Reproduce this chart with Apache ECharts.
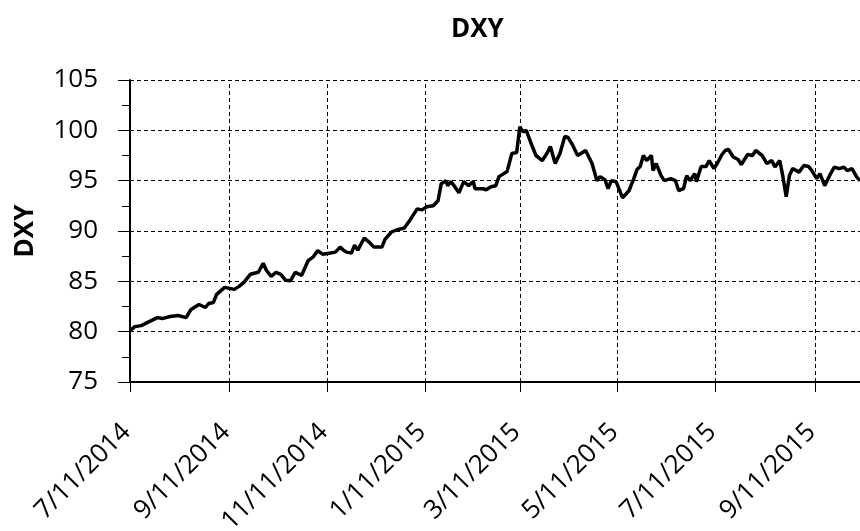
<!DOCTYPE html>
<html>
<head>
<meta charset="utf-8">
<script src="https://cdn.jsdelivr.net/npm/echarts@6/dist/echarts.min.js"></script>
<style>html,body{margin:0;padding:0;background:#fff}#c{width:860px;height:531px}</style>
</head>
<body>
<div id="c"></div>
<script>
var chartTitle = 'DXY';
var yAxisName = 'DXY';
var dates = ['2014-07-11','2014-07-14','2014-07-18','2014-07-23','2014-07-28','2014-07-31','2014-08-05','2014-08-10','2014-08-15','2014-08-18','2014-08-23','2014-08-27','2014-08-29','2014-09-01','2014-09-03','2014-09-08','2014-09-14','2014-09-17','2014-09-20','2014-09-24','2014-09-29','2014-10-02','2014-10-04','2014-10-07','2014-10-10','2014-10-13','2014-10-16','2014-10-19','2014-10-22','2014-10-26','2014-10-30','2014-11-02','2014-11-05','2014-11-08','2014-11-12','2014-11-16','2014-11-19','2014-11-21','2014-11-23','2014-11-26','2014-11-28','2014-11-30','2014-12-04','2014-12-07','2014-12-10','2014-12-15','2014-12-17','2014-12-21','2014-12-24','2014-12-29','2015-01-02','2015-01-06','2015-01-09','2015-01-12','2015-01-16','2015-01-19','2015-01-21','2015-01-24','2015-01-25','2015-01-27','2015-01-29','2015-02-01','2015-02-04','2015-02-07','2015-02-10','2015-02-11','2015-02-16','2015-02-18','2015-02-21','2015-02-24','2015-02-26','2015-03-01','2015-03-03','2015-03-06','2015-03-09','2015-03-11','2015-03-13','2015-03-15','2015-03-18','2015-03-21','2015-03-25','2015-03-28','2015-03-30','2015-04-02','2015-04-05','2015-04-08','2015-04-10','2015-04-13','2015-04-16','2015-04-18','2015-04-21','2015-04-25','2015-04-28','2015-04-30','2015-05-03','2015-05-05','2015-05-07','2015-05-10','2015-05-14','2015-05-18','2015-05-21','2015-05-23','2015-05-25','2015-05-27','2015-05-29','2015-06-01','2015-06-02','2015-06-04','2015-06-07','2015-06-09','2015-06-13','2015-06-16','2015-06-18','2015-06-21','2015-06-23','2015-06-25','2015-06-28','2015-06-29','2015-07-02','2015-07-05','2015-07-07','2015-07-10','2015-07-12','2015-07-15','2015-07-17','2015-07-19','2015-07-22','2015-07-25','2015-07-27','2015-07-31','2015-08-03','2015-08-05','2015-08-09','2015-08-12','2015-08-15','2015-08-17','2015-08-20','2015-08-22','2015-08-24','2015-08-26','2015-08-28','2015-09-01','2015-09-04','2015-09-07','2015-09-09','2015-09-12','2015-09-14','2015-09-17','2015-09-20','2015-09-23','2015-09-26','2015-09-29','2015-10-01','2015-10-04','2015-10-07','2015-10-09'];
var values = [80.1,80.5,80.6,81.0,81.4,81.3,81.5,81.6,81.4,82.2,82.7,82.4,82.8,82.9,83.7,84.4,84.2,84.5,84.9,85.7,85.9,86.8,86.1,85.5,85.9,85.7,85.1,85.05,85.9,85.6,87.05,87.4,88.05,87.7,87.8,87.9,88.4,88.1,87.9,87.8,88.6,88.1,89.3,88.9,88.4,88.4,89.2,89.9,90.1,90.3,91.2,92.2,92.1,92.4,92.5,93.0,94.7,95.0,94.5,94.9,94.5,93.8,94.9,94.5,94.9,94.2,94.2,94.1,94.4,94.5,95.4,95.7,95.9,97.7,97.8,100.35,99.85,100.0,98.7,97.5,97.0,97.75,98.4,96.7,97.7,99.4,99.3,98.5,97.5,97.7,98.0,96.7,95.0,95.4,95.1,94.2,95.0,94.9,93.3,94.0,95.2,96.1,96.4,97.5,97.0,97.5,96.0,96.7,95.5,95.0,95.2,95.0,94.0,94.2,95.5,95.0,95.7,94.9,96.4,96.4,97.0,96.2,96.7,97.6,98.0,98.1,97.35,97.1,96.6,97.6,97.5,98.0,97.5,96.7,97.0,96.35,97.0,95.35,93.4,95.5,96.2,95.85,96.5,96.4,96.0,95.2,95.7,94.5,95.5,96.35,96.2,96.35,96.0,96.2,95.35,95.0];
var xTickDates = ['2014-07-11','2014-09-11','2014-11-11','2015-01-11','2015-03-11','2015-05-11','2015-07-11','2015-09-11'];
var xMinDate = '2014-07-11';
var xMaxDate = '2015-10-09';
var yMin = 75, yMax = 105, yStep = 5;

function toTs(s){var p=s.split('-');return Date.UTC(+p[0],+p[1]-1,+p[2]);}
function fmt(v){var d=new Date(v);return '{a|' + (d.getUTCMonth()+1)+'/'+d.getUTCDate()+'/'+d.getUTCFullYear() + '}';}

var seriesData = dates.map(function(d,i){return [toTs(d), values[i]];});
var tickTs = xTickDates.map(toTs);
var FONT = 'Open Sans';

var chart = echarts.init(document.getElementById('c'), null, {renderer:'canvas'});
chart.setOption({
  animation: false,
  backgroundColor: '#fff',
  title: {
    text: chartTitle, left: 446, top: 12,
    textStyle: {fontFamily: FONT, fontWeight: 'bold', fontSize: 26, color: '#000'}
  },
  grid: {left: 130, right: 0, top: 80, bottom: 149, containLabel: false, outerBoundsMode: 'none'},
  xAxis: [{
    type: 'value', min: toTs(xMinDate), max: toTs(xMaxDate), scale: true,
    axisLine: {show: true, onZero: false, lineStyle: {color: '#000', width: 2}},
    axisTick: {show: true, customValues: tickTs, length: 10, lineStyle: {color: '#000', width: 1}},
    axisLabel: {show: false},
    splitLine: {show: false},
    minorTick: {show: false}
  }, {
    type: 'value', position: 'bottom', offset: 16, min: toTs(xMinDate), max: toTs(xMaxDate), scale: true,
    axisLine: {show: false},
    axisTick: {show: false, customValues: tickTs},
    axisLabel: {customValues: tickTs, rotate: 45, verticalAlign: 'top',
      formatter: fmt, fontFamily: FONT, fontSize: 26, color: '#000',
      rich: {a: {fontFamily: FONT, fontSize: 26, color: '#000', padding: [0, 18, 0, 0]}}},
    splitLine: {show: false},
    minorTick: {show: false}
  }],
  yAxis: {
    type: 'value', min: yMin, max: yMax, interval: yStep,
    name: yAxisName, nameLocation: 'middle', nameRotate: 90, nameGap: 91,
    nameTextStyle: {fontFamily: FONT, fontWeight: 'bold', fontSize: 26, color: '#000'},
    axisLine: {show: true, lineStyle: {color: '#000', width: 2}},
    axisTick: {show: true, length: 12, lineStyle: {color: '#000', width: 1}},
    minorTick: {show: true, splitNumber: 2, length: 8, lineStyle: {color: '#000', width: 1}},
    axisLabel: {padding: [0, 24, 0, 0], fontFamily: FONT, fontSize: 26, color: '#000'},
    splitLine: {show: true, lineStyle: {color: '#000', width: 1, type: [4, 3]}}
  },
  series: [{
    type: 'line', xAxisIndex: 0, data: seriesData, showSymbol: false, symbol: 'none',
    lineStyle: {color: '#000', width: 3.5}, z: 5,
    markLine: {
      silent: true, symbol: 'none', animation: false,
      label: {show: false},
      lineStyle: {color: '#000', width: 1, type: [4, 3]},
      data: tickTs.slice(1).map(function(t){return {xAxis: t};})
    }
  }]
});
</script>
</body>
</html>
